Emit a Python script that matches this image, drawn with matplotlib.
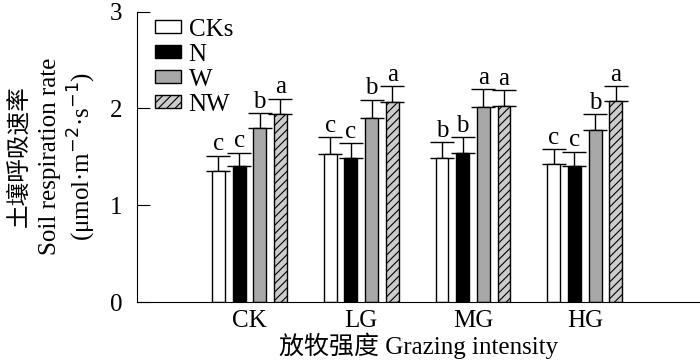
import numpy as np
import matplotlib
matplotlib.use('Agg')
import matplotlib.pyplot as plt

plt.rcParams['font.family'] = ['Liberation Serif', 'Noto Sans CJK SC']
plt.rcParams['hatch.linewidth'] = 0.8

groups = ['CK', 'LG', 'MG', 'HG']
series = ['CKs', 'N', 'W', 'NW']
means = {
    'CKs': [1.35, 1.53, 1.49, 1.43],
    'N':   [1.40, 1.49, 1.54, 1.41],
    'W':   [1.80, 1.90, 2.01, 1.78],
    'NW':  [1.94, 2.07, 2.02, 2.08],
}
errs = {
    'CKs': [0.16, 0.17, 0.16, 0.15],
    'N':   [0.14, 0.15, 0.16, 0.14],
    'W':   [0.15, 0.19, 0.19, 0.16],
    'NW':  [0.16, 0.16, 0.17, 0.15],
}
letters = {
    'CKs': ['c', 'c', 'b', 'c'],
    'N':   ['c', 'c', 'b', 'c'],
    'W':   ['b', 'b', 'a', 'b'],
    'NW':  ['a', 'a', 'a', 'a'],
}

colors = {'CKs': 'white', 'N': 'black', 'W': '#a8a8a8', 'NW': '#cccccc'}
hatches = {'CKs': None, 'N': None, 'W': None, 'NW': '////'}

fig = plt.figure(figsize=(7, 3.63), dpi=100)
ax = fig.add_axes([0.195, 0.168, 0.805, 0.80])

x = np.arange(len(groups))
w = 0.115
step = 0.185
for i, s in enumerate(series):
    pos = x + (i - 1.5) * step
    ax.bar(pos, means[s], width=w, color=colors[s], edgecolor='black',
           linewidth=1, hatch=hatches[s], label=s, zorder=2)
    ax.errorbar(pos, means[s], yerr=[np.zeros(4), errs[s]], fmt='none',
                ecolor='black', elinewidth=1, capsize=8.5, capthick=1, zorder=1)
    for p, m, e, t in zip(pos, means[s], errs[s], letters[s]):
        ax.text(p, m + e + 0.005, t, ha='center', va='bottom', fontsize=18)

ax.set_xlim(-1.01, 4.03)
ax.set_ylim(0, 3)
ax.set_yticks([0, 1, 2, 3])
ax.set_xticks(x)
ax.set_xticklabels(groups, fontsize=18)
ax.tick_params(axis='y', direction='in', length=9, labelsize=18, pad=10)
ax.tick_params(axis='x', length=0, pad=6)
ax.spines['top'].set_visible(False)
ax.spines['right'].set_visible(False)
ax.set_xlabel('放牧强度 Grazing intensity', fontsize=18, labelpad=0)

leg = ax.legend(loc='upper left', bbox_to_anchor=(0.015, 1.01), frameon=False,
                fontsize=18, handlelength=1.05, handleheight=0.4,
                labelspacing=0.12, handletextpad=0.3, borderaxespad=0)

fig.text(0.028, 0.57, '土壤呼吸速率', rotation=90, ha='center', va='center', fontsize=17)
fig.text(0.072, 0.57, 'Soil respiration rate', rotation=90, ha='center', va='center', fontsize=18)
fig.text(0.117, 0.57, '(μmol·m$^{-2}$·s$^{-1}$)', rotation=90, ha='center', va='center', fontsize=18)

fig.savefig('out.png', dpi=100)
